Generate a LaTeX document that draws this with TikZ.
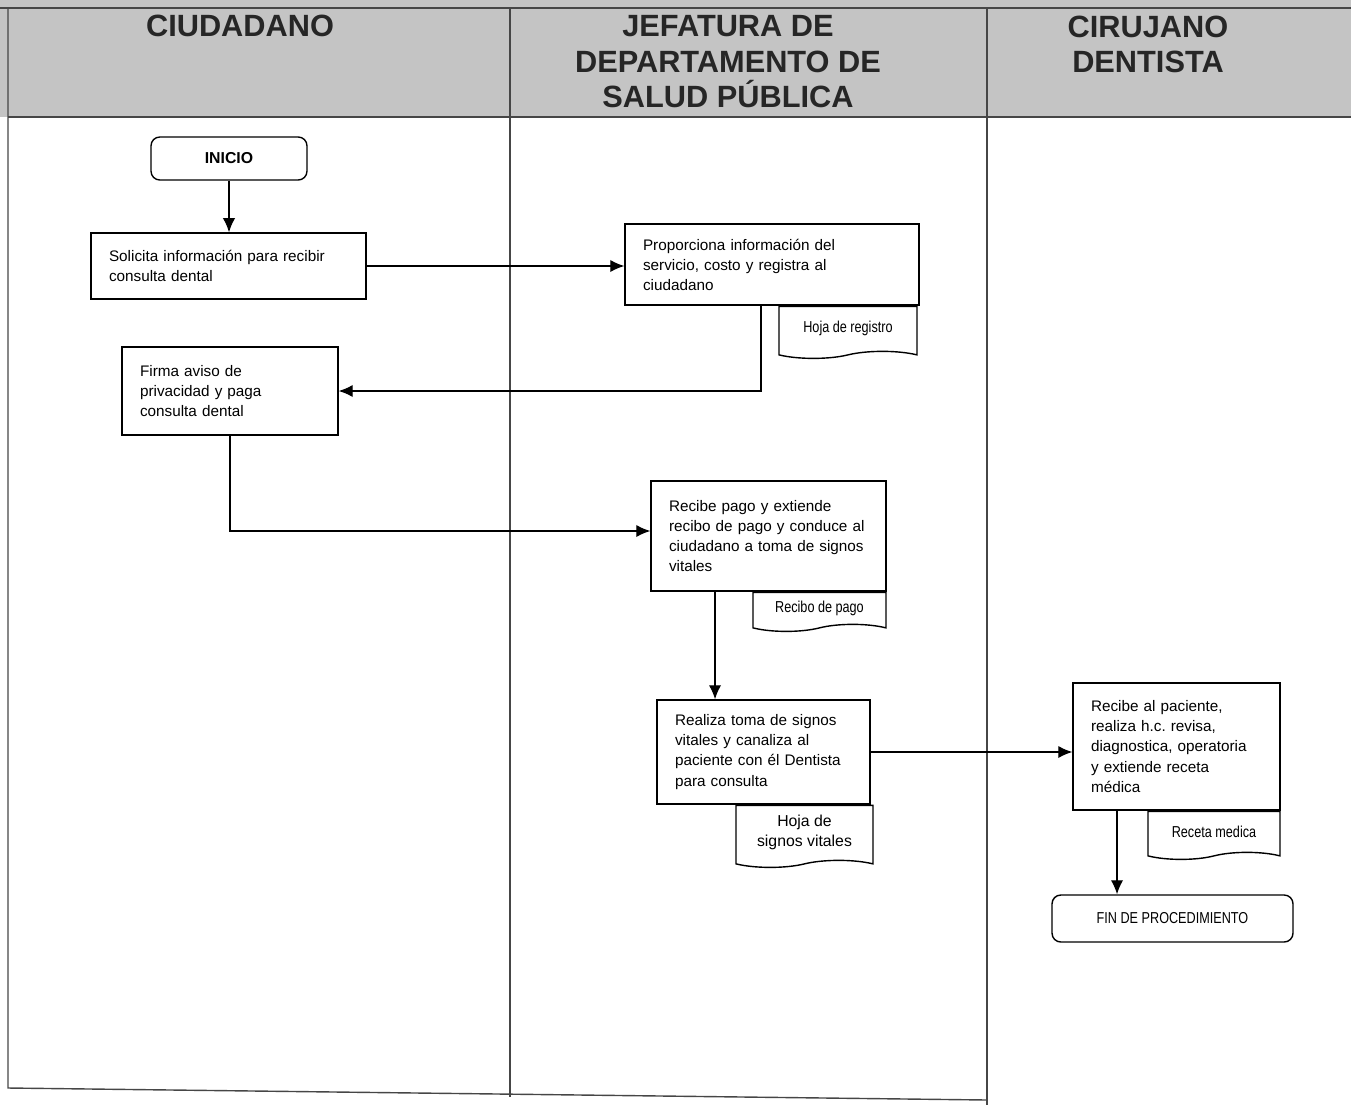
\documentclass[tikz,border=0pt]{standalone}
\usepackage{fontspec}
\setmainfont{Liberation Sans}
\newfontfamily\angosta[FakeStretch=0.8]{Liberation Sans}
\usetikzlibrary{arrows.meta,shapes}
\definecolor{grisEnc}{RGB}{196,196,196}
\definecolor{grisLinea}{RGB}{70,70,70}
\tikzstyle{encabezado} = [anchor=north, align=center, inner sep=0pt, text=black!85, font=\fontsize{17.5}{20.2}\selectfont\bfseries]
\tikzstyle{tarea} = [draw, rectangle, align=left, inner xsep=0.36cm, font=\fontsize{8.7}{11.4}\selectfont]
\tikzstyle{terminal} = [draw, rectangle, rounded corners=5pt, inner sep=0pt]
\tikzstyle{documento} = [draw, tape, tape bend top=none, tape bend height=4pt, anchor=north east, inner sep=0pt, align=center, font=\fontsize{9}{11.4}\selectfont]

\begin{document}
\frenchspacing
\begin{tikzpicture}[x=0.02cm, y=-0.02cm, >={Latex[length=8pt,width=7pt]}, line width=0.8pt]
    \useasboundingbox (0,0) rectangle (1351,1105);
    % carriles
    \fill[grisEnc] (0,0) rectangle (1351,117);
    \draw[grisLinea, line width=1.4pt] (0,8) -- (1351,8);
    \draw[grisLinea, line width=1.4pt] (8,117) -- (1351,117);
    \draw[grisLinea] (8,8) -- (8,1088) -- (987,1100);
    \draw[grisLinea] (510,8) -- (510,1097);
    \draw[grisLinea] (987,8) -- (987,1105);

    \node[encabezado] (ciudadano) at (240,14) {CIUDADANO};
    \node[encabezado] (jefatura) at (728,15) {JEFATURA DE\\DEPARTAMENTO DE\\SALUD PÚBLICA};
    \node[encabezado] (cirujano) at (1148,15) {CIRUJANO\\DENTISTA};

    \node[terminal, minimum width=3.12cm, minimum height=0.86cm, font=\fontsize{9}{11}\selectfont\bfseries] (inicio) at (229,158.5) {INICIO};
    \node[tarea, text width=4.78cm, minimum height=1.32cm] (solicita) at (228.5,266)
        {Solicita información para recibir\\consulta dental};
    \node[tarea, text width=5.16cm, minimum height=1.62cm] (proporciona) at (772,264.5)
        {Proporciona información del\\servicio, costo y registra al\\ciudadano};
    \node[documento, minimum width=2.76cm, minimum height=1.04cm, font=\fontsize{9}{11.4}\selectfont\angosta] (hojareg) at ([xshift=-0.04cm]proporciona.south east) {Hoja de registro};
    \node[tarea, text width=3.60cm, minimum height=1.76cm] (firma) at (230,391)
        {Firma aviso de\\privacidad y paga\\consulta dental};
    \node[tarea, text width=3.98cm, minimum height=2.2cm] (recpago) at (768.5,536)
        {Recibe pago y extiende\\recibo de pago y conduce al\\ciudadano a toma de signos\\vitales};
    \node[documento, minimum width=2.66cm, minimum height=0.78cm, font=\fontsize{9}{11.4}\selectfont\angosta] (recibo) at (recpago.south east) {Recibo de pago};
    \node[tarea, text width=3.54cm, minimum height=2.08cm] (realiza) at (763.5,752)
        {Realiza toma de signos\\vitales y canaliza al\\paciente con él Dentista\\para consulta};
    \node[documento, minimum width=2.74cm, minimum height=1.24cm] (hojasignos) at ([xshift=0.06cm]realiza.south east) {Hoja de\\signos vitales};
    \node[tarea, text width=3.42cm, minimum height=2.54cm] (paciente) at (1176.5,746.5)
        {Recibe al paciente,\\realiza h.c. revisa,\\diagnostica, operatoria\\y extiende receta\\médica};
    \node[documento, minimum width=2.64cm, minimum height=0.96cm, font=\fontsize{9}{11.4}\selectfont\angosta] (receta) at (paciente.south east) {Receta medica};
    \node[terminal, minimum width=4.82cm, minimum height=0.94cm, font=\fontsize{9}{11}\selectfont\angosta] (fin) at (1172.5,918.5) {FIN DE PROCEDIMIENTO};

    % flujo
    \draw[->] (inicio.south) -- (inicio.south |- solicita.north);
    \draw[->] (solicita.east) -- (solicita.east -| proporciona.west);
    \coordinate (b1) at ([xshift=-0.22cm]proporciona.south);
    \draw[->] (b1) |- (firma.east);
    \draw[->] (firma.south) |- ([yshift=0.1cm]recpago.west);
    \coordinate (b2) at ([xshift=-1.07cm]recpago.south);
    \draw[->] (b2) -- (b2 |- realiza.north);
    \draw[->] (realiza.east) -- (realiza.east -| paciente.west);
    \coordinate (b3) at ([xshift=-1.19cm]paciente.south);
    \draw[->] (b3) -- (b3 |- fin.north);
\end{tikzpicture}
\end{document}
